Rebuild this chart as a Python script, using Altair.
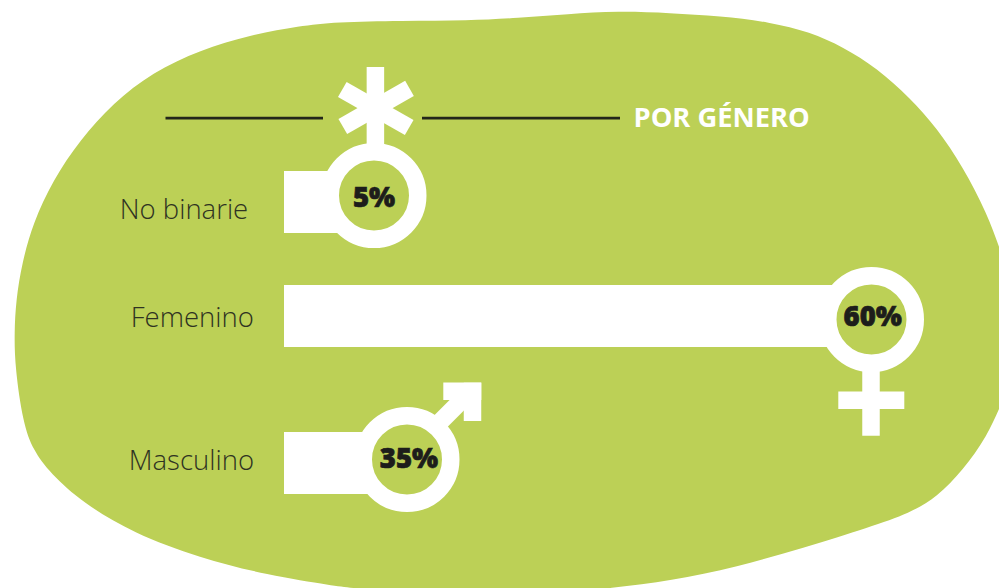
import altair as alt
import pandas as pd

GREEN = "#bcd056"
WHITE = "#ffffff"
DARK = "#1d1d1b"
LABEL = "#2f3322"

# Categories and values
categories = ["No binarie", "Femenino", "Masculino"]
percent = ["5%", "60%", "35%"]
bar_start = [284, 284, 284]
bar_end = [374, 871, 407]
bar_top = [171, 285, 432]
bar_bottom = [233, 347, 494]
ring_x = [374, 871.5, 407]
ring_y = [195.5, 319.5, 459.5]
label_x = [119.7, 130.8, 128.8]
label_y = [219, 327, 470]
pct_x = [374, 872.7, 409]
pct_y = [206.7, 326, 467.7]

# Background blob outline, clockwise
blob_x = [14.3, 16, 22, 33, 53, 80, 113, 153, 200, 250, 300, 335, 402, 468, 518, 568, 618, 670, 720, 770,
          810, 843, 877, 910, 937, 963, 987, 1003, 1012, 1012, 1003, 987, 963, 937, 910, 870, 803, 737,
          670, 613, 550, 480, 410, 352, 335, 267, 200, 133, 83, 50, 33, 23, 15]
blob_y = [333, 300, 263, 223, 180, 140, 103, 72, 50, 35, 26, 22, 20.7, 20.7, 18, 14, 11, 13, 16, 22,
          32, 47, 68, 98, 128, 167, 213, 257, 290, 378, 400, 437, 470, 497, 513, 527, 548, 567,
          581, 588, 593, 595, 593, 588, 586, 575, 558, 533, 503, 473, 450, 423, 367]

# White strokes of the gender symbols
seg_x = [375.4, 342.3, 342.8, 871, 838.3, 425, 443.3, 472.5]
seg_x2 = [375.4, 409.2, 409.5, 871, 904.3, 472, 481.3, 472.5]
seg_y = [67, 89.5, 126.5, 360, 400.2, 437, 391.3, 382.7]
seg_y2 = [150, 127.5, 88.3, 435.7, 400.2, 390, 391.3, 421]

# Heading
rule_x = [165.5, 422]
rule_x2 = [323, 620]
rule_y = [118.2, 118.2]
heading = ["POR GÉNERO"]
heading_x = [633.5]
heading_y = [126.7]

xs = alt.Scale(domain=[8, 999], range=[0, 991])
ys = alt.Scale(domain=[8, 588], range=[0, 580])


def X(f):
    return alt.X(f, type="quantitative", scale=xs, axis=None)


def Y(f):
    return alt.Y(f, type="quantitative", scale=ys, axis=None)


rows = pd.DataFrame(dict(cat=categories, pct=percent, b0=bar_start, b1=bar_end, t=bar_top, u=bar_bottom,
                         rx=ring_x, ry=ring_y, lx=label_x, ly=label_y, px=pct_x, py=pct_y))
blob_df = pd.DataFrame(dict(x=blob_x, y=blob_y, i=range(len(blob_x))))
seg_df = pd.DataFrame(dict(x=seg_x, x2=seg_x2, y=seg_y, y2=seg_y2))
rule_df = pd.DataFrame(dict(x=rule_x, x2=rule_x2, y=rule_y))
head_df = pd.DataFrame(dict(t=heading, x=heading_x, y=heading_y))

blob = alt.Chart(blob_df).mark_line(interpolate="basis-closed", fill=GREEN, stroke=GREEN, strokeWidth=0,
                                    clip=True).encode(
    x=X("x"), y=Y("y"), order=alt.Order("i:Q"))

rules = alt.Chart(rule_df).mark_rule(color="#22261a", strokeWidth=2.8).encode(x=X("x"), x2="x2:Q", y=Y("y"))

strokes = alt.Chart(seg_df).mark_rule(color=WHITE, strokeWidth=17.5).encode(
    x=X("x"), x2="x2:Q", y=Y("y"), y2="y2:Q")

bars = alt.Chart(rows).mark_bar(color=WHITE).encode(x=X("b0"), x2="b1:Q", y=Y("t"), y2="u:Q")

rings = alt.Chart(rows).mark_point(shape="circle", filled=True, fill=GREEN, stroke=WHITE, strokeWidth=17.5,
                                   size=7656, opacity=1).encode(x=X("rx"), y=Y("ry"))

labels = alt.Chart(rows).mark_text(align="left", baseline="alphabetic", font="Open Sans", fontWeight=300,
                                   fontSize=27.5, color=LABEL).encode(x=X("lx"), y=Y("ly"), text="cat:N")

pcts = alt.Chart(rows).mark_text(align="center", baseline="alphabetic", font="Open Sans", fontWeight=800,
                                 fontSize=27.5, color=DARK, stroke=DARK, strokeWidth=0.7).encode(
    x=X("px"), y=Y("py"), text="pct:N")

head = alt.Chart(head_df).mark_text(align="left", baseline="alphabetic", font="Open Sans", fontWeight=700,
                                    fontSize=27.3, color=WHITE).encode(x=X("x"), y=Y("y"), text="t:N")

chart = (blob + rules + strokes + bars + rings + labels + pcts + head).properties(
    width=991, height=580, padding=0, background=WHITE,
    autosize=alt.AutoSizeParams(type="none", contains="padding")
).configure_view(stroke=None)

chart.save("out.html", embed_options={"renderer": "svg", "actions": False})
